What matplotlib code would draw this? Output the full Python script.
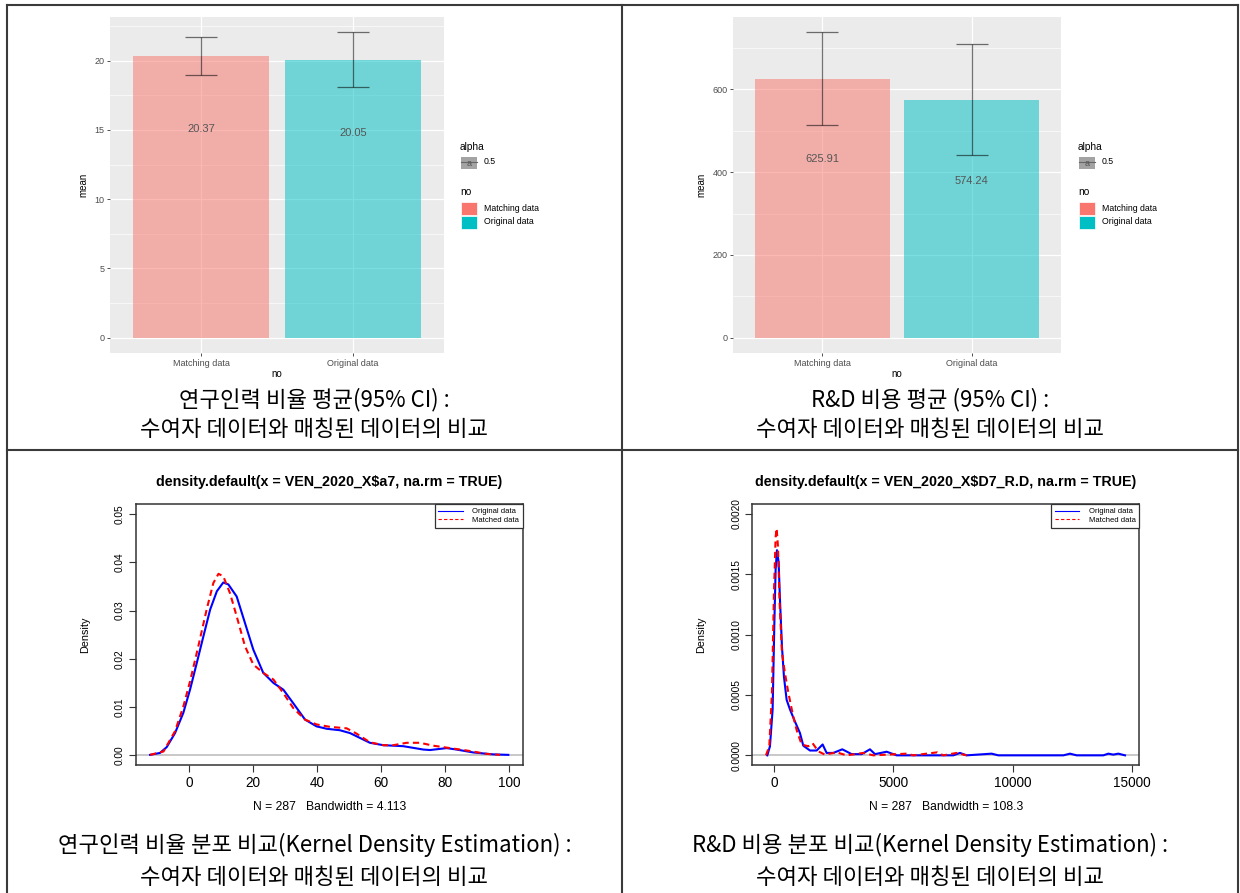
import matplotlib
matplotlib.use("Agg")
import matplotlib.pyplot as plt
from matplotlib.patches import Rectangle
from matplotlib.lines import Line2D

plt.rcParams['font.family'] = ['Liberation Sans', 'DejaVu Sans']

W, H = 1240, 893

# ---- bar chart data (mean with 95% CI) ----
groups = ['Matching data', 'Original data']
bar_colors = ['#F8766D', '#00BFC4']

ratio_mean = [20.37, 20.05]
ratio_lo = [19.0, 18.1]
ratio_hi = [21.7, 22.05]

rnd_mean = [625.91, 574.24]
rnd_lo = [514.0, 442.0]
rnd_hi = [738.0, 709.0]

# ---- kernel density curves ----
a7_orig_x = [-12.3, -9.2, -7.1, -4.5, -1.9, 0.2, 2.3, 4.4, 6.5, 8.6, 10.6, 12.2, 14.8, 17.4,
             20.0, 23.1, 26.3, 29.4, 32.5, 36.2, 39.8, 43.0, 47.1, 50.3, 53.4, 56.5, 60.7,
             66.9, 73.2, 75.3, 80.5, 83.6, 88.8, 95.1, 99.8]
a7_orig_y = [0.0001, 0.0005, 0.0017, 0.0046, 0.0088, 0.0136, 0.0191, 0.0247, 0.0302, 0.034,
             0.0358, 0.0354, 0.0329, 0.0274, 0.0219, 0.0171, 0.015, 0.0136, 0.0108, 0.0074,
             0.006, 0.0055, 0.0052, 0.0046, 0.0036, 0.0026, 0.0021, 0.0019, 0.0012, 0.0011,
             0.0015, 0.0012, 0.0006, 0.0002, 0.0001]
a7_match_x = [-12.3, -8.1, -4.5, -1.9, 0.2, 2.8, 5.4, 7.5, 9.1, 10.6, 12.7, 14.8, 17.4, 20.0,
              23.1, 26.3, 29.4, 32.5, 36.2, 39.8, 44.0, 49.2, 52.3, 56.5, 60.7, 63.8, 68.0,
              72.2, 76.3, 80.5, 86.8, 93.0, 97.2]
a7_match_y = [0.0001, 0.0008, 0.005, 0.0101, 0.0153, 0.0226, 0.0302, 0.0357, 0.0376, 0.0371,
              0.0336, 0.0288, 0.0226, 0.0188, 0.0171, 0.0157, 0.0129, 0.0098, 0.0074, 0.0064,
              0.0059, 0.0056, 0.0045, 0.0027, 0.0021, 0.0021, 0.0026, 0.0026, 0.002, 0.0016,
              0.001, 0.0003, 0.0001]

rd_orig_x = [-294, -182, -70, 0, 56, 112, 182, 238, 322, 406, 518, 658, 867, 1077, 1217, 1497,
             1777, 2029, 2196, 2476, 2854, 3246, 3666, 4015, 4225, 4715, 5134, 7513, 7792,
             8072, 9121, 9400, 12130, 12409, 12689, 13808, 14018, 14228, 14438, 14718]
rd_orig_y = [0, 0.000075, 0.00038, 0.00107, 0.00154, 0.0017, 0.0016, 0.00129, 0.0009, 0.00065,
             0.00046, 0.00038, 0.00028, 0.000185, 0.00008, 0.00004, 0.00004, 0.00009, 0.00002,
             0.00002, 0.00005, 0.00001, 0.00001, 0.00005, 0.00001, 0.00003, 0, 0, 0.00002, 0,
             0.000014, 0, 0, 0.000014, 0, 0, 0.000014, 0.000006, 0.000014, 0]
rd_match_x = [-350, -210, -98, -14, 56, 98, 154, 224, 322, 448, 588, 797, 937, 1147, 1427, 1609,
              1847, 2126, 2616, 3036, 3735, 4155, 5554, 5834, 6841, 7093, 7653, 8072]
rd_match_y = [0, 0.000075, 0.00052, 0.00135, 0.00181, 0.00188, 0.00173, 0.00126, 0.00085,
              0.00068, 0.00052, 0.00032, 0.00021, 0.00009, 0.000075, 0.0001, 0.000033, 0.000006,
              0.000025, 0, 0.00002, 0, 0.000014, 0, 0.000025, 0, 0.00002, 0]

captions = [
    ('연구인력 비율 평균(95% CI) :', '수여자 데이터와 매칭된 데이터의 비교'),
    ('R&D 비용 평균 (95% CI) :', '수여자 데이터와 매칭된 데이터의 비교'),
    ('연구인력 비율 분포 비교(Kernel Density Estimation) :', '수여자 데이터와 매칭된 데이터의 비교'),
    ('R&D 비용 분포 비교(Kernel Density Estimation) :', '수여자 데이터와 매칭된 데이터의 비교'),
]


def px_axes(fig, x0, y0, x1, y1):
    return fig.add_axes([x0 / W, 1 - y1 / H, (x1 - x0) / W, (y1 - y0) / H])


def fx(x):
    return x / W


def fy(y):
    return 1 - y / H


def gg_bar(fig, box, means, lo, hi, major, minor, drop, legend_x):
    ax = px_axes(fig, *box)
    ax.set_facecolor('#EBEBEB')
    for s in ax.spines.values():
        s.set_visible(False)
    top = max(hi)
    ax.set_ylim(-0.05 * top, top * 1.05)
    ax.set_xlim(0.4, 2.6)
    for v in minor:
        ax.axhline(v, color='white', lw=0.45, zorder=0)
    for v in major:
        ax.axhline(v, color='white', lw=0.9, zorder=0)
    for v in [1, 2]:
        ax.axvline(v, color='white', lw=0.9, zorder=0)
    xs = [1, 2]
    ax.bar(xs, means, width=0.9, color=bar_colors, alpha=0.52, zorder=2, linewidth=0)
    ax.errorbar(xs, means, yerr=[[m - l for m, l in zip(means, lo)], [h - m for m, h in zip(means, hi)]],
                fmt='none', ecolor='black', alpha=0.55, elinewidth=0.9, capsize=11.5, capthick=0.9,
                zorder=3)
    for x, m in zip(xs, means):
        ax.text(x, m - drop, f'{m:.2f}', ha='center', va='center', fontsize=8, color='#555555',
                zorder=4)
    ax.set_yticks(major)
    ax.set_yticklabels([f'{v:g}' for v in major])
    ax.set_xticks(xs)
    ax.set_xticklabels(groups)
    ax.tick_params(length=2.5, width=0.6, color='#333333', labelsize=6.5, labelcolor='#4D4D4D',
                   pad=1.5)
    ax.set_ylabel('mean', fontsize=7, labelpad=4)
    ax.set_xlabel('no', fontsize=7, labelpad=1)
    # legends (alpha + fill)
    fig.text(fx(legend_x), fy(147), 'alpha', fontsize=7.3, va='center')
    fig.patches.append(Rectangle((fx(legend_x + 1), fy(169)), 16 / W, 12 / H, transform=fig.transFigure,
                                 facecolor='#A3A3A3', edgecolor='none'))
    fig.lines.append(Line2D([fx(legend_x + 1), fx(legend_x + 17)], [fy(162), fy(162)],
                            transform=fig.transFigure, color='#666666', lw=0.8))
    fig.text(fx(legend_x + 9), fy(163.5), 'a', fontsize=6.5, ha='center', va='center', color='#555555')
    fig.text(fx(legend_x + 24), fy(162), '0.5', fontsize=6.3, va='center')
    fig.text(fx(legend_x), fy(192), 'no', fontsize=7.3, va='center')
    for i, (g, c) in enumerate(zip(groups, bar_colors)):
        yc = 208 + 14 * i
        fig.patches.append(Rectangle((fx(legend_x + 1), fy(yc + 6.5)), 16 / W, 13 / H,
                                     transform=fig.transFigure, facecolor=c, edgecolor='white',
                                     lw=0.5))
        fig.text(fx(legend_x + 24), fy(yc), g, fontsize=6.3, va='center')
    return ax


def r_density(fig, box, ox, oy, mx, my, xlim, ylim, xt, yt, ylab_fmt, title, xlab):
    ax = px_axes(fig, *box)
    ax.axhline(0, color='#C8C8C8', lw=1.4, zorder=1)
    ax.plot(ox, oy, color='blue', lw=1.5, label='Original data', zorder=3)
    ax.plot(mx, my, color='red', lw=1.5, ls=(0, (3, 2)), label='Matched data', zorder=4)
    ax.set_xlim(*xlim)
    ax.set_ylim(*ylim)
    ax.set_xticks(xt)
    ax.set_xticklabels([f'{v:g}' for v in xt])
    ax.set_yticks(yt)
    ax.set_yticklabels([ylab_fmt.format(v) for v in yt], rotation=90, va='center')
    for s in ax.spines.values():
        s.set_linewidth(1.1)
        s.set_color('#333333')
    ax.tick_params(axis='x', length=5, width=0.8, labelsize=9.8, pad=3, color='#333333')
    ax.tick_params(axis='y', length=5, width=0.8, labelsize=7.3, pad=3, color='#333333')
    ax.text(0.5, 1.087, title, transform=ax.transAxes, ha='center', va='center',
            fontsize=10.3, fontweight='bold')
    ax.text(0.5, -0.16, xlab, transform=ax.transAxes, ha='center', va='center', fontsize=8.7)
    ax.text(-0.131, 0.5, 'Density', transform=ax.transAxes, ha='center', va='center',
            rotation=90, fontsize=7.8)
    leg = ax.legend(loc='upper right', borderaxespad=0, fontsize=5.5, frameon=True,
                    fancybox=False, framealpha=1, edgecolor='#333333', handlelength=3.2,
                    borderpad=0.5, labelspacing=0.15, handletextpad=1.2)
    leg.get_frame().set_linewidth(0.9)
    for ln in leg.get_lines():
        ln.set_linewidth(0.8)
    return ax


fig = plt.figure(figsize=(W / 100, H / 100), dpi=100)

gg_bar(fig, (110, 17, 444, 353), ratio_mean, ratio_lo, ratio_hi,
       [0, 5, 10, 15, 20], [2.5, 7.5, 12.5, 17.5, 22.5], 5.3, 460)
gg_bar(fig, (733, 17, 1061, 353), rnd_mean, rnd_lo, rnd_hi,
       [0, 200, 400, 600], [100, 300, 500, 700], 195, 1078)

r_density(fig, (135.7, 504.3, 522.7, 765), a7_orig_x, a7_orig_y, a7_match_x, a7_match_y,
          (-16.8, 104.3), (-0.002, 0.052), [0, 20, 40, 60, 80, 100],
          [0, 0.01, 0.02, 0.03, 0.04, 0.05], '{:.2f}',
          'density.default(x = VEN_2020_X$a7, na.rm = TRUE)', 'N = 287   Bandwidth = 4.113')
r_density(fig, (752.3, 504.3, 1139.3, 765), rd_orig_x, rd_orig_y, rd_match_x, rd_match_y,
          (-923, 15318), (-0.00008, 0.00208), [0, 5000, 10000, 15000],
          [0, 0.0005, 0.001, 0.0015, 0.002], '{:.4f}',
          'density.default(x = VEN_2020_X$D7_R.D, na.rm = TRUE)', 'N = 287   Bandwidth = 108.3')

# table grid around the four panels
grid_kw = dict(transform=fig.transFigure, color='#3A3A3A', lw=1.5)
fig.lines.append(Line2D([fx(7), fx(1238)], [fy(5), fy(5)], **grid_kw))
fig.lines.append(Line2D([fx(7), fx(1238)], [fy(450), fy(450)], **grid_kw))
for xv in (7, 622, 1238):
    fig.lines.append(Line2D([fx(xv), fx(xv)], [fy(5), fy(893)], **grid_kw))

cap_font = ['Noto Sans CJK KR', 'DejaVu Sans']
cap_pos = [(314.5, 400, 430), (930, 400, 430), (314.5, 845, 877), (930, 845, 877)]
for (l1, l2), (cx, y1, y2) in zip(captions, cap_pos):
    fig.text(fx(cx), fy(y1), l1, ha='center', va='center', fontsize=16, family=cap_font)
    fig.text(fx(cx), fy(y2), l2, ha='center', va='center', fontsize=16, family=cap_font)

fig.savefig('out.png', dpi=100)
